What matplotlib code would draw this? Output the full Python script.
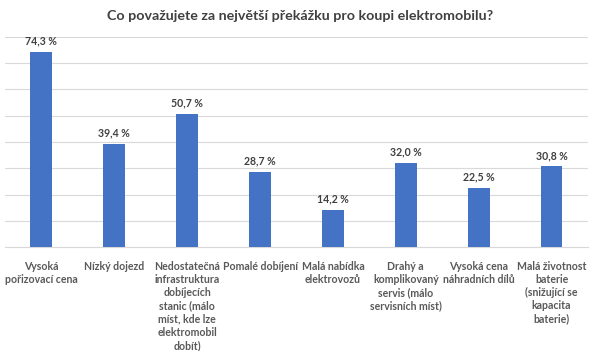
import matplotlib.pyplot as plt

kategorie = [
    "Vysoká\npořizovací cena",
    "Nízký dojezd",
    "Nedostatečná\ninfrastruktura\ndobíjecích\nstanic (málo\nmíst, kde lze\nelektromobil\ndobít)",
    "Pomalé dobíjení",
    "Malá nabídka\nelektrovozů",
    "Drahý a\nkomplikovaný\nservis (málo\nservisních míst)",
    "Vysoká cena\nnáhradních dílů",
    "Malá životnost\nbaterie\n(snižující se\nkapacita\nbaterie)",
]
hodnoty = [74.3, 39.4, 50.7, 28.7, 14.2, 32.0, 22.5, 30.8]

plt.rcParams['font.family'] = ['Lato', 'DejaVu Sans']

fig = plt.figure(figsize=(6, 3.51), dpi=100)
ax = fig.add_axes([0.0083, 0.2954, 0.9717, 0.600])

x = range(len(hodnoty))
bars = ax.bar(x, hodnoty, width=0.3, color='#4472C4', zorder=3)

for i, v in enumerate(hodnoty):
    ax.text(i, v + 2.0, f"{v:.1f} %".replace('.', ','), ha='center', va='bottom',
            fontsize=7.6, fontweight='bold', color='#404040')

ax.set_xlim(-0.5, len(hodnoty) - 0.5)
ax.set_ylim(0, 80)
ax.set_yticks(range(0, 81, 10))
ax.yaxis.grid(True, color='#D9D9D9', linewidth=0.8, zorder=0)
ax.tick_params(axis='y', left=False, labelleft=False)
ax.tick_params(axis='x', bottom=False, pad=6)
ax.set_xticks(list(x))
ax.set_xticklabels(kategorie, fontsize=7.6, fontweight='bold', color='#595959',
                   linespacing=1.25, va='top')
for s in ['top', 'right', 'left']:
    ax.spines[s].set_visible(False)
ax.spines['bottom'].set_color('#D9D9D9')

fig.text(0.5, 0.955, "Co považujete za největší překážku pro koupi elektromobilu?",
         ha='center', va='center', fontsize=10.3, fontweight='bold', color='#404040')

fig.savefig('out.png', dpi=100)
